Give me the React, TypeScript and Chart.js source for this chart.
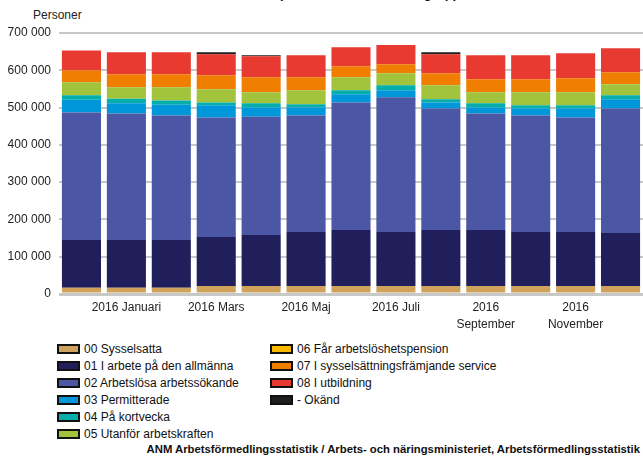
import React, { useEffect, useRef } from "react";
import { Chart, registerables } from "chart.js";

Chart.register(...registerables);

const months = [
  "2015 December", "2016 Januari", "2016 Februari", "2016 Mars", "2016 April", "2016 Maj", "2016 Juni",
  "2016 Juli", "2016 Augusti", "2016 September", "2016 Oktober", "2016 November", "2016 December",
];
const tickLabels: (string | string[])[] = [
  "", "2016 Januari", "", "2016 Mars", "", "2016 Maj", "", "2016 Juli", "", ["2016", "September"], "", ["2016", "November"], "",
];

const sysselsatta = [16700, 16700, 16700, 21200, 21200, 21200, 21200, 21200, 21200, 21200, 21200, 21200, 21200];
const iArbete = [128200, 128200, 128200, 131700, 137100, 145200, 150600, 145200, 150600, 150600, 145200, 145200, 142500];
const arbetslosa = [342200, 339500, 334100, 320700, 317200, 312600, 342100, 361000, 326000, 312600, 312600, 307200, 334100];
const permitterade = [34100, 26900, 28800, 32300, 25000, 21500, 21500, 18800, 16100, 16100, 18800, 24200, 24200];
const kortvecka = [11600, 12600, 11500, 8000, 10800, 8100, 10800, 13400, 8100, 10800, 8100, 8100, 10800];
const utanfor = [34900, 30400, 35000, 35000, 29500, 37600, 34900, 32300, 37600, 29500, 34900, 34900, 29500];
const pension = [300, 300, 300, 300, 300, 300, 300, 300, 300, 300, 300, 300, 300];
const sysselFramjande = [31500, 34900, 34900, 37600, 40300, 34900, 29600, 24200, 32300, 35000, 35000, 37700, 32300];
const utbildning = [53700, 59100, 59100, 56500, 56500, 59200, 51100, 51100, 51100, 64500, 64500, 67200, 64500];
const okand = [0, 0, 0, 5300, 2700, 0, 0, 0, 5300, 0, 0, 0, 0];

const yTicks = [0, 100000, 200000, 300000, 400000, 500000, 600000, 700000];

const series = [
  { label: "00 Sysselsatta", data: sysselsatta, color: "#CFA35B" },
  { label: "01 I arbete på den allmänna", data: iArbete, color: "#201F5B" },
  { label: "02 Arbetslösa arbetssökande", data: arbetslosa, color: "#4B56A5" },
  { label: "03 Permitterade", data: permitterade, color: "#0096DA" },
  { label: "04 På kortvecka", data: kortvecka, color: "#05AEAB" },
  { label: "05 Utanför arbetskraften", data: utanfor, color: "#A1C43C" },
  { label: "06 Får arbetslöshetspension", data: pension, color: "#F9B800" },
  { label: "07 I sysselsättningsfrämjande service", data: sysselFramjande, color: "#F07E00" },
  { label: "08 I utbildning", data: utbildning, color: "#E83A31" },
  { label: "- Okänd", data: okand, color: "#1E1E1E" },
];

const fmt = (v: number) => String(v).replace(/\B(?=(\d{3})+(?!\d))/g, " ");
const FONT = "'Liberation Sans', Arial, sans-serif";

export default function App() {
  const ref = useRef<HTMLCanvasElement | null>(null);
  useEffect(() => {
    if (!ref.current) return;
    const chart = new Chart(ref.current, {
      type: "bar",
      data: {
        labels: months,
        datasets: series.map((s) => ({
          label: s.label,
          data: s.data,
          backgroundColor: s.color,
          borderWidth: 0,
          barPercentage: 0.87,
          categoryPercentage: 1,
        })),
      },
      options: {
        animation: false,
        responsive: false,
        maintainAspectRatio: false,
        layout: { padding: { top: 33, left: 0, right: 0, bottom: 0 } },
        plugins: { legend: { display: false }, tooltip: { enabled: false }, title: { display: false } },
        scales: {
          x: {
            type: "category",
            stacked: true,
            offset: true,
            grid: { display: false, drawTicks: false },
            border: { display: false },
            afterFit: (scale: any) => {
              scale.height = 40;
            },
            ticks: {
              autoSkip: false,
              maxRotation: 0,
              padding: 6,
              color: "#222",
              font: { family: FONT, size: 12, lineHeight: 1.35 },
              callback: (_v: any, i: number) => tickLabels[i] as any,
            },
          },
          y: {
            stacked: true,
            min: 0,
            max: 700000,
            afterBuildTicks: (scale: any) => {
              scale.ticks = yTicks.map((v) => ({ value: v }));
            },
            afterFit: (scale: any) => {
              scale.width = 59;
            },
            grid: {
              color: "#C8C8C8",
              lineWidth: (ctx: any) => (ctx.tick && ctx.tick.value === 0 ? 3 : 2),
              drawTicks: false,
            },
            border: { display: false },
            ticks: {
              padding: 8,
              color: "#222",
              font: { family: FONT, size: 12 },
              callback: (v: any) => fmt(Number(v)),
            },
          },
        },
      },
    });
    return () => chart.destroy();
  }, []);

  const left = series.slice(0, 6);
  const right = series.slice(6);
  const item = (s: { label: string; color: string }) => (
    <div key={s.label} style={{ display: "flex", alignItems: "center", height: 17 }}>
      <span
        style={{
          display: "inline-block",
          width: 19,
          height: 6,
          background: s.color,
          border: "2px solid #111",
          marginRight: 4,
        }}
      />
      <span style={{ whiteSpace: "nowrap" }}>{s.label}</span>
    </div>
  );

  return (
    <div
      style={{
        position: "absolute",
        left: 0,
        top: 0,
        width: 643,
        height: 457,
        overflow: "hidden",
        background: "#fff",
        fontFamily: FONT,
        fontSize: 12,
        color: "#111",
      }}
    >
      <div
        style={{
          position: "absolute",
          top: -14,
          left: 0,
          width: 643,
          textAlign: "center",
          fontWeight: "bold",
          fontSize: 13,
          lineHeight: "15px",
        }}
      >
        Arbetssökande personer efter sökandegrupp
      </div>
      <div style={{ position: "absolute", left: 33, top: 8, fontSize: 12, color: "#222" }}>Personer</div>
      <canvas ref={ref} width={643} height={334} style={{ position: "absolute", left: 0, top: 0, width: 643, height: 334 }} />
      <div style={{ position: "absolute", left: 57, top: 340 }}>{left.map(item)}</div>
      <div style={{ position: "absolute", left: 270, top: 340 }}>{right.map(item)}</div>
      <div
        style={{
          position: "absolute",
          right: 3,
          top: 443,
          fontWeight: "bold",
          fontSize: 11.3,
          whiteSpace: "nowrap",
        }}
      >
        ANM Arbetsförmedlingsstatistik / Arbets- och näringsministeriet, Arbetsförmedlingsstatistik
      </div>
    </div>
  );
}
